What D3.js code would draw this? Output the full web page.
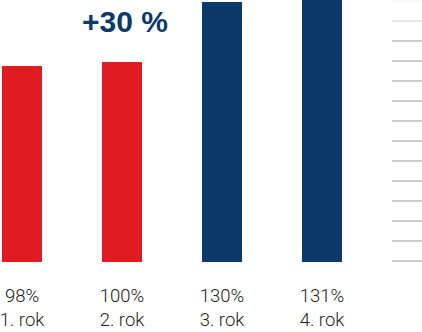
<!DOCTYPE html>
<html>
<head>
<meta charset="utf-8">
<script src="https://cdn.jsdelivr.net/npm/d3@7"></script>
<style>
  html, body { margin: 0; padding: 0; background: #fff; }
  svg { display: block; }
</style>
</head>
<body>
<svg id="chart" width="422" height="332"></svg>
<script>
// Data
const categories = ["1. rok", "2. rok", "3. rok", "4. rok"];
const values = [98, 100, 130, 131];
const valueLabels = ["98%", "100%", "130%", "131%"];
const barColors = ["#e01b24", "#e01b24", "#0b3a6a", "#0b3a6a"];
const gridValues = [0, 10, 20, 30, 40, 50, 60, 70, 80, 90, 100, 110, 120, 130];
const headline = "+30 %";

const svg = d3.select("#chart");

const x = d3.scaleBand()
  .domain(categories)
  .range([2, 342])
  .paddingInner(0.6)
  .paddingOuter(0);

const y = d3.scaleLinear()
  .domain([0, 131])
  .range([262, 0]);

// Short gridline ticks on the right, fading out towards the top
svg.append("g")
  .selectAll("rect")
  .data(gridValues)
  .join("rect")
  .attr("x", 392)
  .attr("width", 30)
  .attr("y", d => y(d) - 2)
  .attr("height", 2)
  .attr("fill", "#cccccc")
  .attr("opacity", d => d >= 130 ? 0.12 : d >= 120 ? 0.45 : 1);

// Bars
svg.append("g")
  .selectAll("rect")
  .data(values)
  .join("rect")
  .attr("x", (d, i) => x(categories[i]))
  .attr("width", x.bandwidth())
  .attr("y", d => y(d))
  .attr("height", d => y(0) - y(d))
  .attr("fill", (d, i) => barColors[i]);

// Value labels
const labelFont = "Roboto, 'Liberation Sans', sans-serif";
svg.append("g")
  .selectAll("text")
  .data(valueLabels)
  .join("text")
  .attr("x", (d, i) => x(categories[i]) + x.bandwidth() / 2)
  .attr("y", 302)
  .attr("text-anchor", "middle")
  .attr("font-family", labelFont)
  .attr("font-weight", 300)
  .attr("font-size", 18.5)
  .attr("fill", "#222")
  .text(d => d);

// Category labels
svg.append("g")
  .selectAll("text")
  .data(categories)
  .join("text")
  .attr("x", d => x(d) + x.bandwidth() / 2)
  .attr("y", 326)
  .attr("text-anchor", "middle")
  .attr("font-family", labelFont)
  .attr("font-weight", 300)
  .attr("font-size", 18.5)
  .attr("fill", "#222")
  .text(d => d);

// Growth headline
svg.append("text")
  .attr("x", 125)
  .attr("y", 32)
  .attr("text-anchor", "middle")
  .attr("font-family", "'Liberation Sans', Arial, sans-serif")
  .attr("font-weight", 700)
  .attr("font-size", 30)
  .attr("fill", "#0b3a6a")
  .text(headline);
</script>
</body>
</html>
